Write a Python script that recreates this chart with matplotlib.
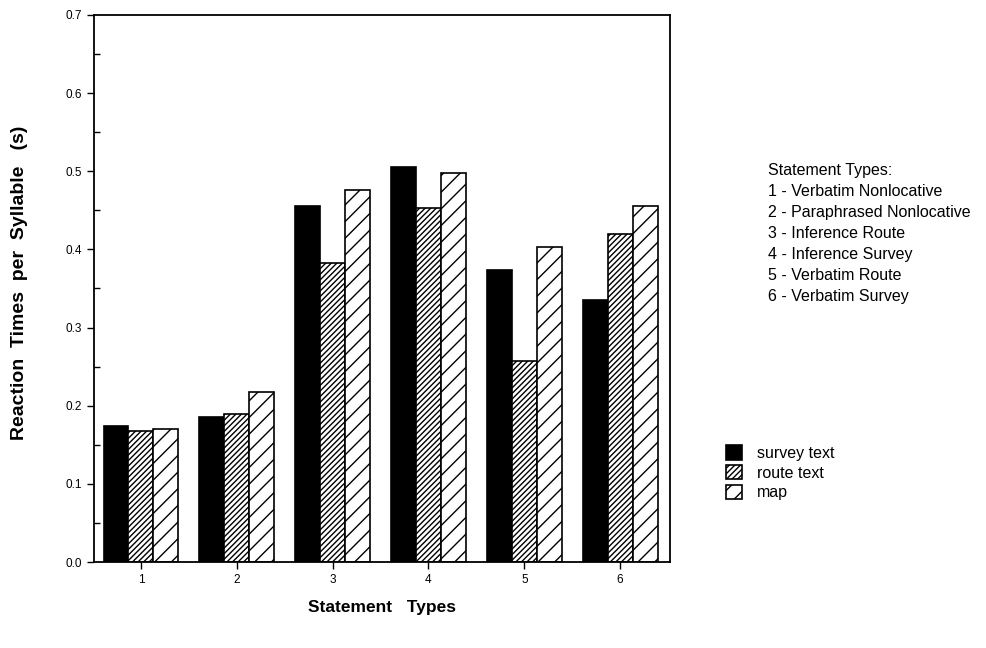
import matplotlib.pyplot as plt
import numpy as np

plt.rcParams['font.family'] = ['Liberation Sans', 'DejaVu Sans']
plt.rcParams['hatch.linewidth'] = 1.0

groups = ['1', '2', '3', '4', '5', '6']
survey_text = [0.174, 0.185, 0.455, 0.505, 0.373, 0.335]
route_text = [0.167, 0.189, 0.382, 0.453, 0.257, 0.420]
map_vals = [0.170, 0.217, 0.476, 0.498, 0.403, 0.455]
series_names = ['survey text', 'route text', 'map']
type_lines = ['Statement Types:',
              '1 - Verbatim Nonlocative',
              '2 - Paraphrased Nonlocative',
              '3 - Inference Route',
              '4 - Inference Survey',
              '5 - Verbatim Route',
              '6 - Verbatim Survey']

fig = plt.figure(figsize=(9.86, 6.48), dpi=100)
ax = fig.add_axes([0.0953, 0.1327, 0.5842, 0.8443])

x = np.arange(1, len(groups) + 1)
w = 0.26
b1 = ax.bar(x - w, survey_text, w, color='black', edgecolor='black', linewidth=1.2)
b2 = ax.bar(x, route_text, w, color='white', edgecolor='black', hatch='//////', linewidth=1.2)
b3 = ax.bar(x + w, map_vals, w, color='white', edgecolor='black', hatch='//', linewidth=1.2)

ax.set_xlim(0.51, 6.52)
ax.set_ylim(0, 0.7)
ax.set_xticks(x)
ax.set_xticklabels(groups)
ax.set_yticks(np.arange(0, 0.71, 0.1))
ax.set_yticklabels(['%.1f' % v for v in np.arange(0, 0.71, 0.1)])
ax.set_yticks(np.arange(0.05, 0.7, 0.1), minor=True)
ax.tick_params(axis='y', which='minor', direction='in', length=4, width=1)
ax.tick_params(axis='both', which='major', direction='out', length=5, width=1, labelsize=8.5)
for s in ax.spines.values():
    s.set_linewidth(1.3)

ax.set_ylabel('Reaction  Times  per  Syllable   (s)', fontsize=14, fontweight='bold')
ax.yaxis.set_label_coords(-0.115, 0.51)
ax.set_xlabel('Statement   Types', fontsize=12.5, fontweight='bold', labelpad=10)

for i, line in enumerate(type_lines):
    fig.text(0.779, 0.730 - i * 0.0325, line, fontsize=11.5)

fig.legend([b1, b2, b3], series_names, loc='upper left', bbox_to_anchor=(0.722, 0.335),
           frameon=False, fontsize=11.5, handlelength=1.0, handleheight=1.0,
           handletextpad=0.9, labelspacing=0.25)

fig.savefig('out.png', dpi=100)
